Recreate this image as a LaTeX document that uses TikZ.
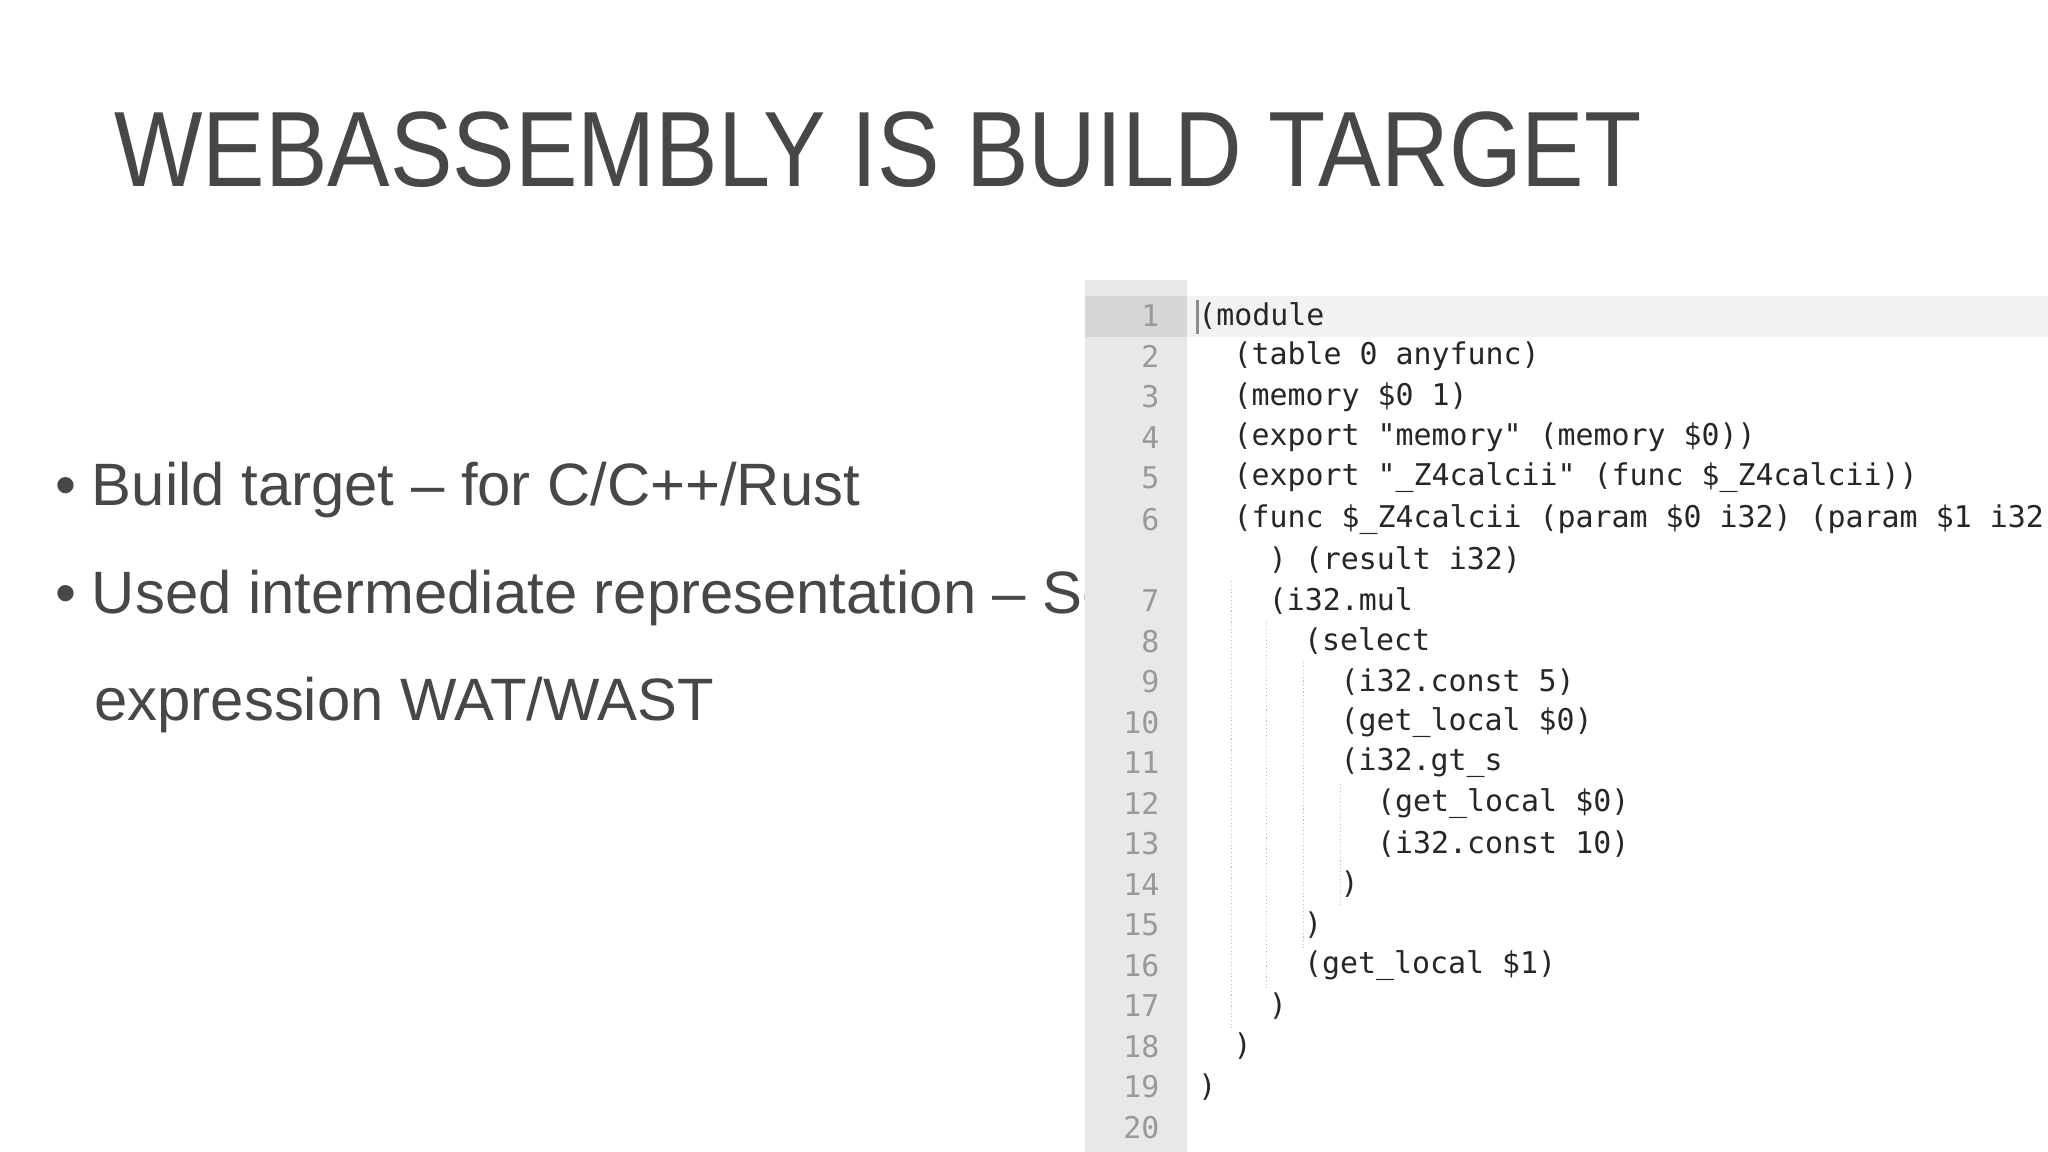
\documentclass[tikz,border=0pt]{standalone}
\usepackage{fontspec}
\setmainfont{Liberation Sans}
\setmonofont{DejaVu Sans Mono}
\begin{document}
\begin{tikzpicture}[x=0.5pt,y=-0.5pt,
  ttl/.style={anchor=base west,inner sep=0,text=black!72,xscale=0.875,font=\fontsize{41}{50}\selectfont},
  bul/.style={anchor=base west,inner sep=0,text=black!72,font=\fontsize{22.9}{27}\selectfont},
  code/.style={anchor=west,inner sep=0,text=black!85,font=\ttfamily\fontsize{11.45}{14}\selectfont},
  lno/.style={anchor=east,inner sep=0,text=black!40,font=\ttfamily\fontsize{11.45}{14}\selectfont},
  guide/.style={black!25,line width=0.4pt,densely dotted}]
\useasboundingbox[fill=white] (0,0) rectangle (1568,882);
\node[ttl] (title) at (87,143) {WEBASSEMBLY IS BUILD TARGET};
\node[bul] (b1) at (42,387) {•\hspace{6pt}Build target – for C/C++/Rust};
\node[bul] (b2) at (42,470) {•\hspace{6pt}Used intermediate representation – S-};
\node[bul] (b3) at (72,552) {expression WAT/WAST};
% panel
\fill[white] (909,214) rectangle (1568,882);
\fill[black!9] (831,214) rectangle (909,882);
\fill[black!5] (909,227) rectangle (1568,258);
\fill[black!16] (831,227) rectangle (909,258);
\draw[black!45,line width=1pt] (917,230) -- (917,256);
% guides
\draw[guide] (943,445) -- (943,788);
\draw[guide] (970,476) -- (970,757);
\draw[guide] (998,507) -- (998,726);
\draw[guide] (1026,600) -- (1026,695);
\foreach \n/\y in {1/242,2/273,3/304,4/335,5/366,6/398,7/460,8/491,9/522,10/553,11/584,12/615,13/646,14/677,15/708,16/739,17/770,18/801,19/832,20/863}
  \node[lno] (l\n) at (888,\y) {\n};
\node[code] (c1) at (917,242) {(module};
\node[code] (c2) at (944,273) {(table 0 anyfunc)};
\node[code] (c3) at (944,304) {(memory \$0 1)};
\node[code] (c4) at (944,335) {(export "memory" (memory \$0))};
\node[code] (c5) at (944,366) {(export "\_Z4calcii" (func \$\_Z4calcii))};
\node[code] (c6) at (944,398) {(func \$\_Z4calcii (param \$0 i32) (param \$1 i32};
\node[code] (c6b) at (971,429) {) (result i32)};
\node[code] (c7) at (971,460) {(i32.mul};
\node[code] (c8) at (998,491) {(select};
\node[code] (c9) at (1026,522) {(i32.const 5)};
\node[code] (c10) at (1026,553) {(get\_local \$0)};
\node[code] (c11) at (1026,584) {(i32.gt\_s};
\node[code] (c12) at (1054,615) {(get\_local \$0)};
\node[code] (c13) at (1054,646) {(i32.const 10)};
\node[code] (c14) at (1026,677) {)};
\node[code] (c15) at (998,708) {)};
\node[code] (c16) at (998,739) {(get\_local \$1)};
\node[code] (c17) at (971,770) {)};
\node[code] (c18) at (944,801) {)};
\node[code] (c19) at (917,832) {)};
\end{tikzpicture}
\end{document}
